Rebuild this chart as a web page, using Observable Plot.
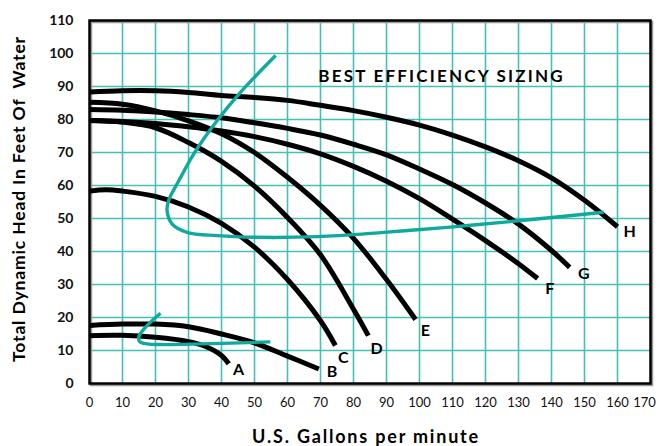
<!DOCTYPE html>
<html><head><meta charset="utf-8">
<script src="https://cdn.jsdelivr.net/npm/d3@7"></script>
<script src="https://cdn.jsdelivr.net/npm/@observablehq/plot@0.6"></script>
<style>body{margin:0;background:#fff}#chart{width:660px;height:446px}</style>
</head><body><div id="chart"></div>
<script>
const xTicks = [0,10,20,30,40,50,60,70,80,90,100,110,120,130,140,150,160,170];
const yTicks = [0,10,20,30,40,50,60,70,80,90,100,110];
const gridXValues = [10,20,30,40,50,60,70,80,90,100,110,120,130,140,150,160];
const gridYValues = [10,20,30,40,50,60,70,80,90,100];

const pumpA = [[0,14.5],[10,14.6],[20,14],[30,12.7],[35,11.3],[40,8.5],[42.2,6]];
const pumpB = [[0,17.6],[10,18],[20,18],[30,17.2],[40,15],[50,12.3],[60,8.3],[69.5,4.4]];
const pumpC = [[0,58.3],[5,58.7],[10,58.3],[20,56.7],[30,53.5],[40,48.5],[50,41.3],[60,31.5],[70,19],[74.5,11.5]];
const pumpD = [[0,79.7],[10,79.2],[20,77.5],[30,73],[40,67.3],[50,59.8],[60,50.3],[70,39],[80,22.5],[84.5,14.5]];
const pumpE = [[0,85.2],[10,84.6],[20,82.6],[30,79.6],[40,75.7],[50,70],[60,62.5],[70,54],[80,44],[90,31.5],[98.8,19.4]];
const pumpF = [[0,79.7],[10,79.4],[20,78.8],[30,77.8],[40,76.5],[50,74.8],[60,72.5],[70,69.6],[80,65.8],[90,61.3],[100,56],[110,49.8],[120,43.3],[130,36.3],[135.8,31.8]];
const pumpG = [[0,83],[10,82.8],[20,82.3],[30,81.5],[40,80.5],[50,79],[60,77.3],[70,75.3],[80,72.5],[90,69.3],[100,65],[110,60.3],[120,54.7],[130,48.3],[140,40.3],[145.5,35.2]];
const pumpH = [[0,88.3],[10,88.7],[20,88.7],[30,88.2],[40,87.3],[50,86.7],[60,85.8],[70,84.3],[80,82.7],[90,80.7],[100,78.3],[110,75.3],[120,71.7],[130,67.5],[140,62.3],[150,55.5],[160,47.5]];

const effSmall = [[21.5,21.3],[17.5,17.6],[15,14.3],[15.2,12.7],[17.5,12],[22,11.8],[34,12],[54.8,12.6]];
const effLarge = [[56.4,99.4],[45.8,88.3],[38.7,79.7],[31.6,69.6],[27.1,61.5],[24,55.5],[23.5,52.4],[25,48.4],[29.6,45.8],[38.7,44.8],[50,44.3],[69,44.5],[89.2,45.8],[109.4,47.4],[130,49.3],[155.8,51.9]];

const labelNames = ["A","B","C","D","E","F","G","H"];
const labelX = [45.2,73.5,76.9,87,101.8,139.5,149.8,163.7];
const labelY = [4.1,3.4,7.8,10.4,15.8,28.7,33.2,45.9];

const chartTitle = "BEST EFFICIENCY SIZING";
const titleX = 106.7, titleY = 93;
const xLabel = "U.S. Gallons per minute";
const yLabel = "Total Dynamic Head In Feet Of  Water";

const pumps = [["A",pumpA],["B",pumpB],["C",pumpC],["D",pumpD],["E",pumpE],["F",pumpF],["G",pumpG],["H",pumpH]];
const pumpRows = pumps.flatMap(([name, pts]) => pts.map(([x,y]) => ({name, x, y})));
const effRows = [["s",effSmall],["l",effLarge]].flatMap(([name, pts]) => pts.map(([x,y]) => ({name, x, y})));
const labels = labelNames.map((n,i) => ({n, x: labelX[i], y: labelY[i]}));

const FONT = "Lato, 'Open Sans', sans-serif";
const GRID = "#45c0b6";
const GREEN = "#0fa99d";

const svg = Plot.plot({
  width: 660, height: 446,
  marginLeft: 89, marginRight: 10, marginTop: 20, marginBottom: 63,
  style: {fontFamily: FONT, background: "#fff"},
  x: {domain: [0,170]},
  y: {domain: [0,110]},
  marks: [
    Plot.gridX(gridXValues, {stroke: GRID, strokeOpacity: 1, strokeWidth: 1.6}),
    Plot.gridY(gridYValues, {stroke: GRID, strokeOpacity: 1, strokeWidth: 1.6}),
    Plot.frame({stroke: "#999", strokeWidth: 2.5, dx: 1.5, dy: 1.5}),
    Plot.frame({stroke: "#000", strokeWidth: 2.5}),
    Plot.axisX(xTicks.slice(0, -1), {tickSize: 0, tickPadding: 14, fontSize: 13, fill: "#111", label: null}),
    Plot.axisX(xTicks.slice(-1), {tickSize: 0, tickPadding: 14, fontSize: 13, fill: "#111", label: null, dx: -6}),
    Plot.axisY({ticks: yTicks, tickSize: 0, tickPadding: 16, fontSize: 14, fontWeight: "bold", fill: "#111", label: null}),
    Plot.line(pumpRows, {x: "x", y: "y", z: "name", stroke: "#000", strokeWidth: 5, curve: "catmull-rom", strokeLinecap: "butt"}),
    Plot.line(effRows, {x: "x", y: "y", z: "name", stroke: GREEN, strokeWidth: 3.4, curve: "catmull-rom", strokeLinecap: "butt"}),
    Plot.text(labels, {x: "x", y: "y", text: "n", fontSize: 16, fontWeight: "bold", fill: "#000"}),
    Plot.text([chartTitle], {x: titleX, y: titleY, text: d => d, fontSize: 17, fontWeight: "bold", fill: "#000", className: "bigtitle"})
  ]
});

const s = d3.select(svg);
s.selectAll(".bigtitle text").style("letter-spacing", "2.2px");
s.append("text").attr("x", 366).attr("y", 437).attr("text-anchor", "middle").attr("dy", "0.35em")
  .attr("font-size", 18).attr("font-weight", "bold").attr("fill", "#000").attr("font-family", FONT)
  .style("letter-spacing", "1.8px").text(xLabel);
s.append("text").attr("transform", "translate(19,199) rotate(-90)").attr("text-anchor", "middle").attr("dy", "0.35em")
  .attr("font-size", 17.5).attr("font-weight", "bold").attr("fill", "#000").attr("font-family", FONT)
  .style("letter-spacing", "0.85px").text(yLabel);

document.getElementById("chart").appendChild(svg);
</script>
</body></html>
